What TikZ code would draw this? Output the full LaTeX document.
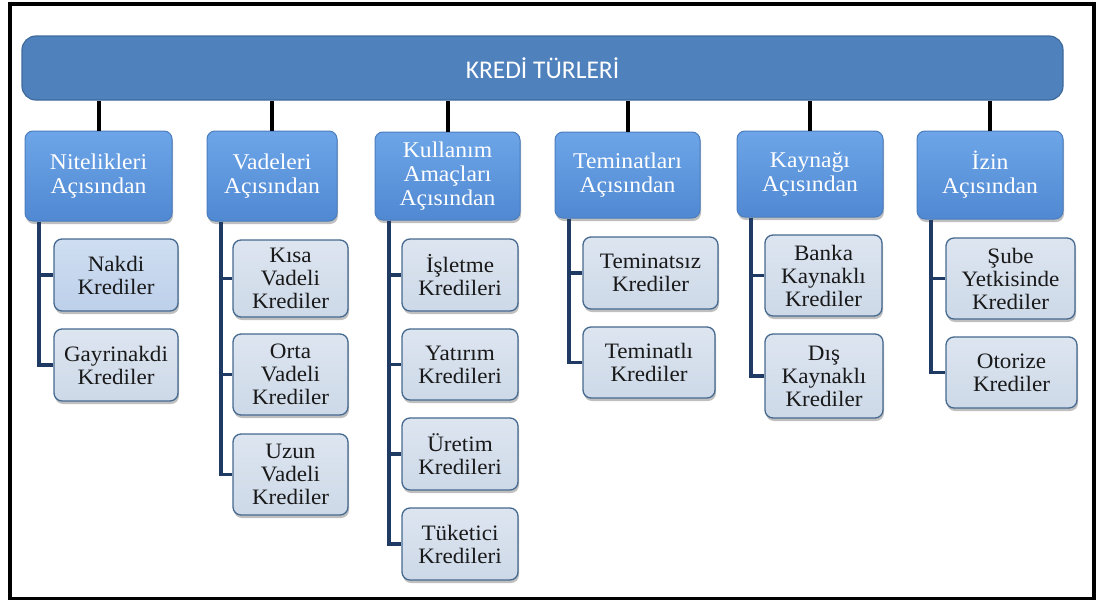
\documentclass[tikz,border=0pt]{standalone}
\usepackage{fontspec}
\setmainfont{Liberation Serif}[FakeStretch=1.05]
\newfontfamily\titlefont{Carlito}
\usetikzlibrary{shadows}
\definecolor{barfill}{HTML}{4F81BD}
\definecolor{barline}{HTML}{3F6A9C}
\definecolor{cattop}{HTML}{6DA5E8}
\definecolor{catbot}{HTML}{5089D2}
\definecolor{catline}{HTML}{4A7DBE}
\definecolor{kidtop}{HTML}{DDE5F0}
\definecolor{kidbot}{HTML}{CDD9E8}
\definecolor{kidline}{HTML}{46698F}
\definecolor{hltop}{HTML}{CFDEF1}
\definecolor{hlbot}{HTML}{BDD0EA}
\definecolor{branchcol}{HTML}{1F3B63}
\tikzset{
  myshadow/.style={drop shadow={shadow xshift=1pt, shadow yshift=-3pt, opacity=0.25, fill=black}},
  topbar/.style={rounded corners=14pt, draw=barline, line width=1.2pt, fill=barfill, text=white,
    font=\titlefont\fontsize{25.5}{27}\selectfont, inner sep=0pt},
  catbox/.style={rounded corners=8pt, draw=catline, line width=1pt, top color=cattop, bottom color=catbot,
    text=white, align=center, font=\fontsize{22.5}{24}\selectfont, inner sep=0pt, myshadow},
  kidbox/.style={rounded corners=8pt, draw=kidline, line width=1.3pt, top color=kidtop, bottom color=kidbot,
    text={black!90}, align=center, font=\fontsize{22}{23}\selectfont, inner sep=0pt, myshadow},
  hlkid/.style={kidbox, top color=hltop, bottom color=hlbot},
  topline/.style={line width=4pt, black},
  branch/.style={line width=3.5pt, branchcol, line join=miter},
}
\begin{document}
\begin{tikzpicture}[x=1pt,y=-1pt]
\useasboundingbox (0,0) rectangle (1101,600);
\draw[line width=3.5pt] (10,4) rectangle (1094,598.5);

\node[topbar, minimum width=1041pt, minimum height=64pt] (top) at (542.5,68) {KREDİ TÜRLERİ};

% categories
\node[catbox, minimum width=147pt, minimum height=90pt] (nit) at (98.5,176) {Nitelikleri\\Açısından};
\node[catbox, minimum width=130pt, minimum height=90pt] (vad) at (272,176) {Vadeleri\\Açısından};
\node[catbox, minimum width=145pt, minimum height=88pt] (kul) at (447.5,176) {Kullanım\\Amaçları\\Açısından};
\node[catbox, minimum width=145pt, minimum height=86pt] (tem) at (627.5,175) {Teminatları\\Açısından};
\node[catbox, minimum width=146pt, minimum height=86pt] (kay) at (810,174) {Kaynağı\\Açısından};
\node[catbox, minimum width=146pt, minimum height=88pt] (izin) at (990,175) {İzin\\Açısından};

\foreach \c in {nit,vad,kul,tem,kay,izin}
  \draw[topline] (\c.north) -- (\c.north |- top.south);

% children
\node[hlkid, minimum width=124pt, minimum height=72pt] (nakdi) at (116,275) {Nakdi\\Krediler};
\node[kidbox, minimum width=124pt, minimum height=72pt] (gayri) at (116,365) {Gayrinakdi\\Krediler};

\node[kidbox, minimum width=115pt, minimum height=77pt] (kisa) at (290.5,278.5) {Kısa\\Vadeli\\Krediler};
\node[kidbox, minimum width=115pt, minimum height=81pt] (orta) at (290.5,374.5) {Orta\\Vadeli\\Krediler};
\node[kidbox, minimum width=115pt, minimum height=81pt] (uzun) at (290.5,474.5) {Uzun\\Vadeli\\Krediler};

\node[kidbox, minimum width=116pt, minimum height=72pt] (isl) at (460,275) {İşletme\\Kredileri};
\node[kidbox, minimum width=116pt, minimum height=71pt] (yat) at (460,364.5) {Yatırım\\Kredileri};
\node[kidbox, minimum width=116pt, minimum height=72pt] (ure) at (460,454) {Üretim\\Kredileri};
\node[kidbox, minimum width=116pt, minimum height=72pt] (tuk) at (460,544) {Tüketici\\Kredileri};

\node[kidbox, minimum width=135pt, minimum height=72pt] (tsiz) at (650.5,273) {Teminatsız\\Krediler};
\node[kidbox, minimum width=132pt, minimum height=71pt] (tli) at (649,362.5) {Teminatlı\\Krediler};

\node[kidbox, minimum width=117pt, minimum height=81pt] (banka) at (823.5,275.5) {Banka\\Kaynaklı\\Krediler};
\node[kidbox, minimum width=118pt, minimum height=84pt] (dis) at (824,376) {Dış\\Kaynaklı\\Krediler};

\node[kidbox, minimum width=129pt, minimum height=81pt] (sube) at (1010.5,278.5) {Şube\\Yetkisinde\\Krediler};
\node[kidbox, minimum width=131pt, minimum height=71pt] (oto) at (1011.5,372.5) {Otorize\\Krediler};

% branches
\foreach \c/\k in {nit/nakdi, nit/gayri, vad/kisa, vad/orta, vad/uzun,
                   kul/isl, kul/yat, kul/ure, kul/tuk, tem/tsiz, tem/tli,
                   kay/banka, kay/dis, izin/sube, izin/oto}
  \draw[branch] ([xshift=14.5pt]\c.south west) |- (\k.west);
\end{tikzpicture}
\end{document}
